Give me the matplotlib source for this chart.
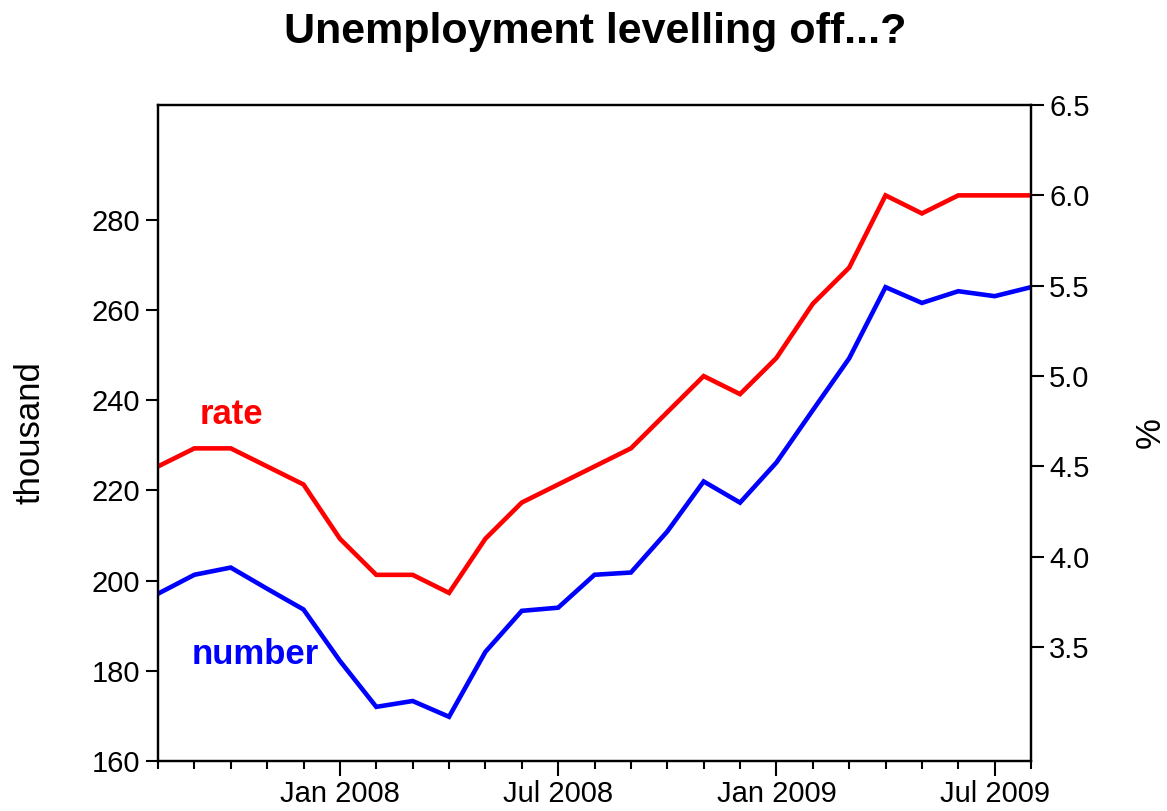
import numpy as np
import pandas as pd
import matplotlib
matplotlib.use("Agg")
import matplotlib.pyplot as plt

plt.rcParams['font.family'] = ['Liberation Sans', 'DejaVu Sans']

# Monthly data, Aug 2007 - Aug 2009
months = pd.date_range('2007-08-01', periods=25, freq='MS')
number = [197.1, 201.3, 202.9, 198.2, 193.6, 182.2, 172.0, 173.3, 169.8, 184.2,
          193.3, 194.0, 201.3, 201.8, 210.9, 222.0, 217.3, 226.2, 237.8, 249.3,
          265.1, 261.6, 264.2, 263.1, 265.1]
rate = [4.5, 4.6, 4.6, 4.5, 4.4, 4.1, 3.9, 3.9, 3.8, 4.1,
        4.3, 4.4, 4.5, 4.6, 4.8, 5.0, 4.9, 5.1, 5.4, 5.6,
        6.0, 5.9, 6.0, 6.0, 6.0]
left_ticks = [160, 180, 200, 220, 240, 260, 280]
right_ticks = [3.5, 4.0, 4.5, 5.0, 5.5, 6.0, 6.5]

x = np.arange(len(months))

fig = plt.figure(figsize=(11.67, 8.11), dpi=100)
ax = fig.add_axes([0.1354, 0.0617, 0.7481, 0.8088])
ax2 = ax.twinx()

ax.plot(x, number, color='#0000ff', lw=3.3, solid_joinstyle='miter')
ax2.plot(x, rate, color='#ff0000', lw=3.3, solid_joinstyle='miter')

ax.set_xlim(0, len(months) - 1)
ax.set_ylim(160, 305.5)
ax2.set_ylim(2.87, 6.5)

ax.set_yticks(left_ticks)
ax2.set_yticks(right_ticks)
ax2.set_yticklabels([f"{v:.1f}" for v in right_ticks])

major = [i for i, m in enumerate(months) if m.month in (1, 7)]
ax.set_xticks(major)
ax.set_xticklabels([months[i].strftime('%b %Y') for i in major])
ax.set_xticks(x, minor=True)

for a in (ax, ax2):
    for s in a.spines.values():
        s.set_linewidth(1.6)
ax.tick_params(axis='x', which='major', length=11, width=1.5, labelsize=21, pad=3)
ax.tick_params(axis='x', which='minor', length=6, width=1.5)
ax.tick_params(axis='y', length=9, width=1.5, labelsize=21, pad=4)
ax2.tick_params(axis='y', length=9, width=1.5, labelsize=21, pad=4)

ax.set_ylabel('thousand', fontsize=25)
ax.yaxis.set_label_coords(-0.128, 0.5)
ax2.set_ylabel('%', fontsize=25, rotation=90)
ax2.yaxis.set_label_coords(1.118, 0.5)

ax.text(0.048, 0.514, 'rate', color='#ff0000', fontsize=25, fontweight='bold',
        transform=ax.transAxes, va='baseline')
ax.text(0.038, 0.148, 'number', color='#0000ff', fontsize=25, fontweight='bold',
        transform=ax.transAxes, va='baseline')

fig.suptitle('Unemployment levelling off...?', fontsize=31, fontweight='bold',
             x=0.51, y=0.985)

fig.savefig('out.png', dpi=100)
